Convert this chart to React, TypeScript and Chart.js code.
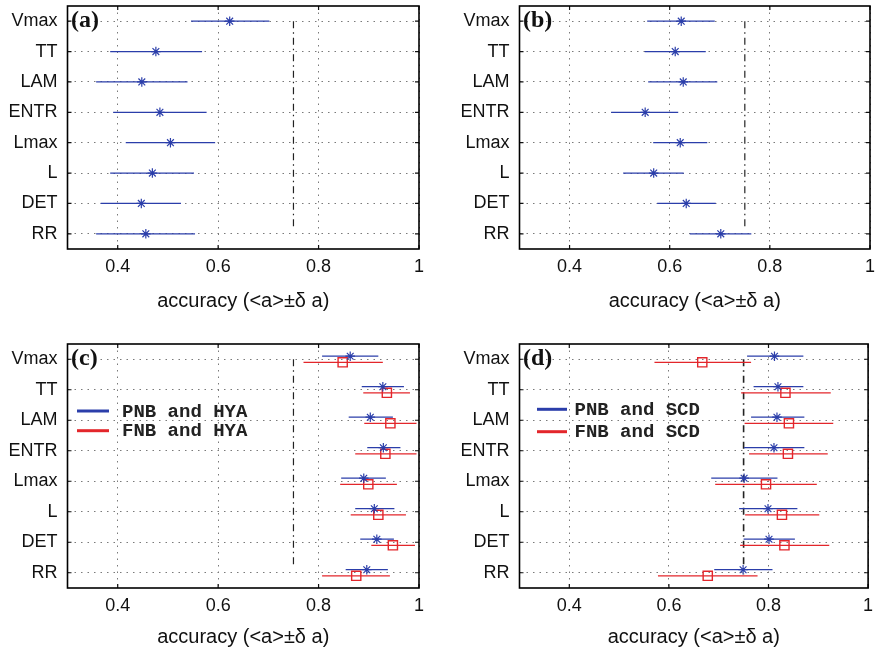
import React, { useEffect, useRef } from 'react';
import { Chart, registerables } from 'chart.js';

Chart.register(...registerables);

const CATEGORIES = ['Vmax', 'TT', 'LAM', 'ENTR', 'Lmax', 'L', 'DET', 'RR'];
const X_TICKS = [0.4, 0.6, 0.8, 1];
const THRESHOLD = 0.75;
const AXIS_TITLE = 'accuracy (<a>\u00b1\u03b4 a)';

// Panel (a)
const A_MEAN = [0.623, 0.476, 0.448, 0.484, 0.505, 0.469, 0.447, 0.456];
const A_LOW = [0.546, 0.385, 0.357, 0.391, 0.416, 0.385, 0.366, 0.357];
const A_HIGH = [0.702, 0.568, 0.539, 0.577, 0.594, 0.552, 0.526, 0.554];

// Panel (b)
const B_MEAN = [0.623, 0.611, 0.627, 0.551, 0.621, 0.568, 0.633, 0.702];
const B_LOW = [0.555, 0.55, 0.557, 0.483, 0.567, 0.507, 0.575, 0.64];
const B_HIGH = [0.69, 0.672, 0.695, 0.617, 0.675, 0.628, 0.692, 0.763];

// Panel (c)
const C_PNB_MEAN = [0.863, 0.928, 0.903, 0.929, 0.89, 0.911, 0.916, 0.896];
const C_PNB_LOW = [0.807, 0.886, 0.86, 0.897, 0.845, 0.873, 0.883, 0.854];
const C_PNB_HIGH = [0.919, 0.97, 0.948, 0.963, 0.934, 0.951, 0.95, 0.938];
const C_FNB_MEAN = [0.848, 0.936, 0.943, 0.933, 0.899, 0.919, 0.948, 0.875];
const C_FNB_LOW = [0.77, 0.889, 0.891, 0.873, 0.843, 0.864, 0.905, 0.807];
const C_FNB_HIGH = [0.928, 0.982, 0.995, 0.995, 0.956, 0.974, 0.992, 0.942];

// Panel (d)
const D_PNB_MEAN = [0.812, 0.819, 0.817, 0.811, 0.751, 0.799, 0.801, 0.749];
const D_PNB_LOW = [0.757, 0.77, 0.765, 0.751, 0.685, 0.741, 0.75, 0.691];
const D_PNB_HIGH = [0.87, 0.87, 0.872, 0.872, 0.818, 0.858, 0.853, 0.808];
const D_FNB_MEAN = [0.667, 0.834, 0.841, 0.839, 0.795, 0.827, 0.832, 0.678];
const D_FNB_LOW = [0.571, 0.745, 0.752, 0.761, 0.693, 0.753, 0.743, 0.578];
const D_FNB_HIGH = [0.765, 0.925, 0.93, 0.919, 0.897, 0.902, 0.922, 0.778];

const BLUE = '#2b3eaa';
const RED = '#e3262b';
const SANS = '"Liberation Sans", Arial, Helvetica, sans-serif';

type Series = {
  label: string;
  mean: number[];
  low: number[];
  high: number[];
  color: string;
  marker: 'star' | 'rect';
  offset: number;
};

type PanelCfg = {
  left: number;
  top: number;
  padTop: number;
  padRight: number;
  yWidth: number;
  xHeight: number;
  titlePad: number;
  letter: string;
  thresholdEnd: number;
  thresholdWidth: number;
  series: Series[];
  legend?: { x0: number; x1: number; tx: number; ys: number[] };
};

const PANELS: PanelCfg[] = [
  {
    left: 0, top: 0, padTop: 5, padRight: 19, yWidth: 67.5, xHeight: 76, titlePad: 11.3,
    letter: '(a)', thresholdEnd: 7.8, thresholdWidth: 1.2,
    series: [{ label: 'a', mean: A_MEAN, low: A_LOW, high: A_HIGH, color: BLUE, marker: 'star', offset: 0 }],
  },
  {
    left: 438, top: 0, padTop: 5, padRight: 6, yWidth: 81.5, xHeight: 76, titlePad: 11.3,
    letter: '(b)', thresholdEnd: 7.8, thresholdWidth: 1.2,
    series: [{ label: 'b', mean: B_MEAN, low: B_LOW, high: B_HIGH, color: BLUE, marker: 'star', offset: 0 }],
  },
  {
    left: 0, top: 325, padTop: 19, padRight: 19, yWidth: 67.5, xHeight: 62, titlePad: 1,
    letter: '(c)', thresholdEnd: 7.8, thresholdWidth: 1.2,
    series: [
      { label: 'PNB and HYA', mean: C_PNB_MEAN, low: C_PNB_LOW, high: C_PNB_HIGH, color: BLUE, marker: 'star', offset: -0.1 },
      { label: 'FNB and HYA', mean: C_FNB_MEAN, low: C_FNB_LOW, high: C_FNB_HIGH, color: RED, marker: 'rect', offset: 0.1 },
    ],
    legend: { x0: 9.5, x1: 41.5, tx: 54.5, ys: [67, 86.7] },
  },
  {
    left: 438, top: 325, padTop: 19, padRight: 6, yWidth: 81.5, xHeight: 62, titlePad: 1,
    letter: '(d)', thresholdEnd: 8.05, thresholdWidth: 1.6,
    series: [
      { label: 'PNB and SCD', mean: D_PNB_MEAN, low: D_PNB_LOW, high: D_PNB_HIGH, color: BLUE, marker: 'star', offset: -0.1 },
      { label: 'FNB and SCD', mean: D_FNB_MEAN, low: D_FNB_LOW, high: D_FNB_HIGH, color: RED, marker: 'rect', offset: 0.1 },
    ],
    legend: { x0: 17.5, x1: 47.5, tx: 55, ys: [65.3, 87.7] },
  },
];

function buildDatasets(cfg: PanelCfg) {
  const markers: any[] = [];
  const segments: any[] = [];
  cfg.series.forEach((s) => {
    markers.push({
      label: s.label,
      data: s.mean.map((m, i) => ({ x: m, y: i + 1 + s.offset })),
      showLine: false,
      pointStyle: s.marker,
      pointRadius: s.marker === 'star' ? 4.8 : 6.5,
      pointBorderWidth: s.marker === 'star' ? 1.2 : 1.4,
      pointBorderColor: s.color,
      pointBackgroundColor: 'rgba(0,0,0,0)',
      borderColor: s.color,
      backgroundColor: 'rgba(0,0,0,0)',
    });
    CATEGORIES.forEach((_, i) => {
      segments.push({
        label: s.label + '-' + i,
        data: [
          { x: s.low[i], y: i + 1 + s.offset },
          { x: s.high[i], y: i + 1 + s.offset },
        ],
        showLine: true,
        borderColor: s.color,
        borderWidth: 1.2,
        pointRadius: 0,
        fill: false,
      });
    });
  });
  const threshold = {
    label: 'threshold',
    data: [
      { x: THRESHOLD, y: 1 },
      { x: THRESHOLD, y: cfg.thresholdEnd },
    ],
    showLine: true,
    borderColor: '#222',
    borderWidth: cfg.thresholdWidth,
    borderDash: [7, 4, 1.5, 4],
    pointRadius: 0,
    fill: false,
  };
  return [...markers, ...segments, threshold];
}

function framePlugin(cfg: PanelCfg) {
  return {
    id: 'frame' + cfg.letter,
    afterDraw(chart: any) {
      const { ctx, chartArea } = chart;
      const { left, right, top, bottom } = chartArea;
      const xs = chart.scales.x;
      const ys = chart.scales.y;
      ctx.save();
      ctx.strokeStyle = '#111';
      ctx.lineWidth = 1.2;
      ctx.setLineDash([]);
      X_TICKS.forEach((v) => {
        const px = xs.getPixelForValue(v);
        ctx.beginPath();
        ctx.moveTo(px, bottom);
        ctx.lineTo(px, bottom - 4);
        ctx.moveTo(px, top);
        ctx.lineTo(px, top + 4);
        ctx.stroke();
      });
      CATEGORIES.forEach((_, i) => {
        const py = ys.getPixelForValue(i + 1);
        ctx.beginPath();
        ctx.moveTo(left, py);
        ctx.lineTo(left + 4, py);
        ctx.moveTo(right, py);
        ctx.lineTo(right - 4, py);
        ctx.stroke();
      });
      ctx.lineWidth = 1.6;
      ctx.strokeStyle = '#000';
      ctx.strokeRect(left, top, right - left, bottom - top);

      ctx.fillStyle = '#111';
      ctx.font = 'bold 24px "Liberation Serif", "Times New Roman", serif';
      ctx.textAlign = 'left';
      ctx.textBaseline = 'middle';
      ctx.fillText(cfg.letter, left + 3.5, ys.getPixelForValue(1));

      if (cfg.legend) {
        const lg = cfg.legend;
        ctx.font = 'bold 19px "Liberation Mono", "Courier New", monospace';
        ctx.textBaseline = 'alphabetic';
        cfg.series.forEach((s, k) => {
          const y = top + lg.ys[k];
          ctx.strokeStyle = s.color;
          ctx.lineWidth = 3;
          ctx.beginPath();
          ctx.moveTo(left + lg.x0, y);
          ctx.lineTo(left + lg.x1, y);
          ctx.stroke();
          ctx.fillStyle = '#222';
          ctx.fillText(s.label, left + lg.tx, y + 5.5);
        });
      }
      ctx.restore();
    },
  };
}

function Panel({ cfg }: { cfg: PanelCfg }) {
  const ref = useRef<HTMLCanvasElement | null>(null);
  useEffect(() => {
    if (!ref.current) return;
    const chart = new Chart(ref.current, {
      type: 'scatter',
      data: { datasets: buildDatasets(cfg) as any },
      options: {
        responsive: false,
        animation: false,
        events: [],
        layout: { padding: { top: cfg.padTop, right: cfg.padRight, left: 0, bottom: 0 } },
        plugins: { legend: { display: false }, tooltip: { enabled: false } },
        scales: {
          x: {
            type: 'linear',
            min: 0.3,
            max: 1,
            afterBuildTicks: (scale: any) => {
              scale.ticks = X_TICKS.map((v) => ({ value: v }));
            },
            afterFit: (scale: any) => {
              scale.height = cfg.xHeight;
              scale.paddingLeft = 0;
              scale.paddingRight = 0;
            },
            ticks: {
              autoSkip: false,
              maxRotation: 0,
              padding: 7,
              color: '#111',
              font: { family: SANS, size: 18 },
              callback: (v: any) => (Number(v) === 1 ? '1' : Number(v).toFixed(1)),
            },
            grid: { color: '#7a7a7a', lineWidth: 1, drawTicks: false },
            border: { display: false, dash: [1.5, 5] },
            title: {
              display: true,
              text: AXIS_TITLE,
              color: '#111',
              font: { family: SANS, size: 20 },
              padding: { top: 0, bottom: cfg.titlePad },
            },
          },
          y: {
            type: 'linear',
            reverse: true,
            min: 0.5,
            max: 8.5,
            afterBuildTicks: (scale: any) => {
              scale.ticks = CATEGORIES.map((_, i) => ({ value: i + 1 }));
            },
            afterFit: (scale: any) => {
              scale.width = cfg.yWidth;
              scale.paddingTop = 0;
              scale.paddingBottom = 0;
            },
            ticks: {
              autoSkip: false,
              padding: 10,
              color: '#111',
              font: { family: SANS, size: 18 },
              callback: (v: any) => CATEGORIES[Math.round(Number(v)) - 1] ?? '',
            },
            grid: { color: '#7a7a7a', lineWidth: 1, drawTicks: false },
            border: { display: false, dash: [1.5, 5] },
          },
        },
      },
      plugins: [framePlugin(cfg)],
    });
    return () => chart.destroy();
  }, [cfg]);
  return (
    <canvas
      ref={ref}
      width={438}
      height={325}
      style={{ position: 'absolute', left: cfg.left, top: cfg.top, width: 438, height: 325, display: 'block' }}
    />
  );
}

export default function App() {
  return (
    <div style={{ position: 'fixed', left: 0, top: 0, width: 876, height: 650, background: '#fff', overflow: 'hidden' }}>
      {PANELS.map((p) => (
        <Panel key={p.letter} cfg={p} />
      ))}
    </div>
  );
}
